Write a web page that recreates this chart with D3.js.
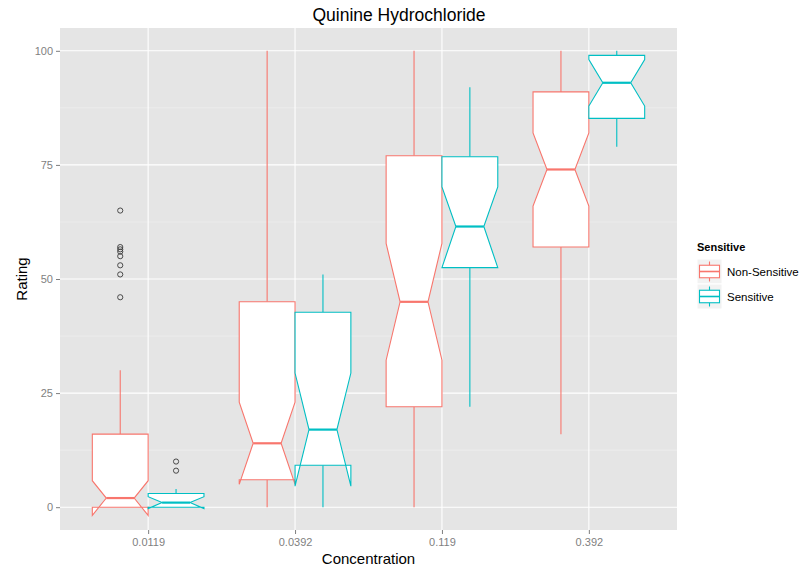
<!DOCTYPE html>
<html>
<head>
<meta charset="utf-8">
<script src="https://cdn.jsdelivr.net/npm/d3@7"></script>
<style>
  body { margin: 0; background: #ffffff; }
  svg { display: block; font-family: "Liberation Sans", Arial, Helvetica, sans-serif; }
</style>
</head>
<body>
<svg id="chart" width="799" height="568"></svg>
<script>
// Concentrations on the x axis and the two taster groups
const concentrations = ["0.0119", "0.0392", "0.119", "0.392"];
const groups = ["Non-Sensitive", "Sensitive"];
const groupColors = ["#F8766D", "#00BFC4"];
const yTicks = [0, 25, 50, 75, 100];
const yMinorTicks = [12.5, 37.5, 62.5, 87.5];

// Box statistics, Non-Sensitive tasters
const nsLower = [0, 0, 0, 16];
const nsQ1 = [0, 6, 22, 57];
const nsMedian = [2, 14, 45, 74];
const nsQ3 = [16, 45, 77, 91];
const nsUpper = [30, 100, 100, 100];
const nsNotchLow = [-1.8, 5, 32.2, 66];
const nsNotchHigh = [5.8, 23, 57.8, 82];
const nsOutliers = [[65, 57, 56.5, 56, 55, 53, 51, 46], [], [], []];

// Box statistics, Sensitive tasters
const sLower = [0, 0, 22, 79];
const sQ1 = [0, 9.2, 52.5, 85.2];
const sMedian = [1, 17, 61.5, 93];
const sQ3 = [3, 42.7, 76.8, 99];
const sUpper = [4, 51, 92, 100];
const sNotchLow = [-0.3, 4.6, 52.5, 87.9];
const sNotchHigh = [2.3, 29.4, 70.2, 98.1];
const sOutliers = [[10, 8], [], [], []];

const series = [
  { name: groups[0], lower: nsLower, q1: nsQ1, median: nsMedian, q3: nsQ3, upper: nsUpper,
    notchLow: nsNotchLow, notchHigh: nsNotchHigh, outliers: nsOutliers },
  { name: groups[1], lower: sLower, q1: sQ1, median: sMedian, q3: sQ3, upper: sUpper,
    notchLow: sNotchLow, notchHigh: sNotchHigh, outliers: sOutliers }
];

const svg = d3.select("#chart");
const panel = { left: 60, right: 677, top: 28, bottom: 530 };

// Discrete x scale with 0.6 units of padding on each side
const xIndex = d3.scaleLinear()
  .domain([0.4, concentrations.length + 0.6])
  .range([panel.left, panel.right]);
const xPos = c => xIndex(concentrations.indexOf(c) + 1);
const unit = xIndex(1) - xIndex(0);
const boxWidth = 0.38 * unit;

const y = d3.scaleLinear().domain([-5, 105]).range([panel.bottom, panel.top]);

// Panel background and grid
svg.append("rect")
  .attr("x", panel.left).attr("y", panel.top)
  .attr("width", panel.right - panel.left).attr("height", panel.bottom - panel.top)
  .attr("fill", "#E5E5E5");

const grid = svg.append("g");
grid.selectAll("line.minor").data(yMinorTicks).join("line")
  .attr("x1", panel.left).attr("x2", panel.right)
  .attr("y1", d => y(d)).attr("y2", d => y(d))
  .attr("stroke", "#F2F2F2").attr("stroke-width", 0.6);
grid.selectAll("line.majorY").data(yTicks).join("line")
  .attr("x1", panel.left).attr("x2", panel.right)
  .attr("y1", d => y(d)).attr("y2", d => y(d))
  .attr("stroke", "#FFFFFF").attr("stroke-width", 1.1);
grid.selectAll("line.majorX").data(concentrations).join("line")
  .attr("x1", d => xPos(d)).attr("x2", d => xPos(d))
  .attr("y1", panel.top).attr("y2", panel.bottom)
  .attr("stroke", "#FFFFFF").attr("stroke-width", 1.1);

// Notched boxes
const boxes = svg.append("g");
series.forEach((s, si) => {
  const color = groupColors[si];
  concentrations.forEach((c, i) => {
    const x0 = si === 0 ? xPos(c) - boxWidth : xPos(c);
    const x1 = x0 + boxWidth;
    const xc = (x0 + x1) / 2;
    const indent = boxWidth * 0.25;
    const g = boxes.append("g");

    // whiskers
    g.append("line").attr("x1", xc).attr("x2", xc)
      .attr("y1", y(s.q3[i])).attr("y2", y(s.upper[i]))
      .attr("stroke", color).attr("stroke-width", 1.1);
    g.append("line").attr("x1", xc).attr("x2", xc)
      .attr("y1", y(s.q1[i])).attr("y2", y(s.lower[i]))
      .attr("stroke", color).attr("stroke-width", 1.1);

    const pts = [
      [x0, y(s.q3[i])],
      [x0, y(s.notchHigh[i])],
      [x0 + indent, y(s.median[i])],
      [x0, y(s.notchLow[i])],
      [x0, y(s.q1[i])],
      [x1, y(s.q1[i])],
      [x1, y(s.notchLow[i])],
      [x1 - indent, y(s.median[i])],
      [x1, y(s.notchHigh[i])],
      [x1, y(s.q3[i])]
    ];
    g.append("path")
      .attr("d", d3.line()(pts) + "Z")
      .attr("fill", "#FFFFFF").attr("stroke", color).attr("stroke-width", 1.1)
      .attr("stroke-linejoin", "miter");
    g.append("line")
      .attr("x1", x0 + indent).attr("x2", x1 - indent)
      .attr("y1", y(s.median[i])).attr("y2", y(s.median[i]))
      .attr("stroke", color).attr("stroke-width", 2.2);

    g.selectAll("circle").data(s.outliers[i]).join("circle")
      .attr("cx", xc).attr("cy", d => y(d)).attr("r", 2.6)
      .attr("fill", "none").attr("stroke", "#3a3a3a").attr("stroke-width", 0.9);
  });
});

// Axes
const yAxis = d3.axisLeft(y).tickValues(yTicks).tickSize(4).tickPadding(3);
const gy = svg.append("g").attr("transform", `translate(${panel.left},0)`).call(yAxis);
const xAxis = d3.axisBottom(xIndex)
  .tickValues(concentrations.map((c, i) => i + 1))
  .tickFormat(d => concentrations[d - 1])
  .tickSize(4).tickPadding(4);
const gx = svg.append("g").attr("transform", `translate(0,${panel.bottom})`).call(xAxis);
[gx, gy].forEach(g => {
  g.select(".domain").remove();
  g.selectAll(".tick line").attr("stroke", "#7F7F7F");
  g.selectAll(".tick text").attr("fill", "#7F7F7F")
    .style("font-size", "11px").style("font-family", "'Liberation Sans', Arial, sans-serif");
});

// Titles
svg.append("text").attr("x", 399).attr("y", 21).attr("text-anchor", "middle")
  .style("font-size", "17.5px").attr("fill", "#000").text("Quinine Hydrochloride");
svg.append("text").attr("x", (panel.left + panel.right) / 2).attr("y", 564)
  .attr("text-anchor", "middle").style("font-size", "15px").text("Concentration");
svg.append("text")
  .attr("transform", `translate(27,${(panel.top + panel.bottom) / 2}) rotate(-90)`)
  .attr("text-anchor", "middle").style("font-size", "15px").text("Rating");

// Legend
const legend = svg.append("g").attr("transform", "translate(697,0)");
legend.append("text").attr("x", 0).attr("y", 251)
  .style("font-size", "11px").style("font-weight", "bold").text("Sensitive");
const keySize = 25;
groups.forEach((name, i) => {
  const ky = 259 + i * keySize;
  const kg = legend.append("g").attr("transform", `translate(0,${ky})`);
  kg.append("rect").attr("width", keySize).attr("height", keySize)
    .attr("fill", "#F2F2F2").attr("stroke", "#FFFFFF").attr("stroke-width", 1);
  const col = groupColors[i];
  kg.append("line").attr("x1", keySize / 2).attr("x2", keySize / 2)
    .attr("y1", keySize * 0.1).attr("y2", keySize * 0.25).attr("stroke", col).attr("stroke-width", 1.1);
  kg.append("line").attr("x1", keySize / 2).attr("x2", keySize / 2)
    .attr("y1", keySize * 0.75).attr("y2", keySize * 0.9).attr("stroke", col).attr("stroke-width", 1.1);
  kg.append("rect").attr("x", keySize * 0.1).attr("y", keySize * 0.25)
    .attr("width", keySize * 0.8).attr("height", keySize * 0.5)
    .attr("fill", "#FFFFFF").attr("stroke", col).attr("stroke-width", 1.1);
  kg.append("line").attr("x1", keySize * 0.1).attr("x2", keySize * 0.9)
    .attr("y1", keySize / 2).attr("y2", keySize / 2).attr("stroke", col).attr("stroke-width", 1.6);
  legend.append("text").attr("x", keySize + 5).attr("y", ky + keySize / 2 + 4)
    .style("font-size", "11.5px").text(name);
});
</script>
</body>
</html>
